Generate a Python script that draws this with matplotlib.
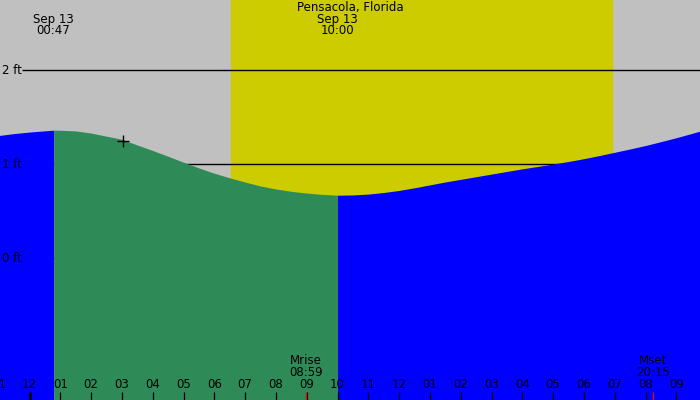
import matplotlib
matplotlib.use("Agg")
import matplotlib.pyplot as plt
import numpy as np

# tide heights (ft) read half-hourly off the chart, hours from midnight Sep 13
hours = [-1.0, -0.5, 0.0, 0.5, 1.0, 1.5, 2.0, 2.5, 3.0, 3.5, 4.0, 4.5, 5.0, 5.5, 6.0, 6.5,
         7.0, 7.5, 8.0, 8.5, 9.0, 9.5, 10.5, 11.0, 11.5, 12.0, 12.5, 13.0, 13.5,
         14.0, 14.5, 15.0, 15.5, 16.0, 16.5, 17.0, 17.5, 18.0, 18.5, 19.0, 19.5, 20.0,
         20.5, 21.0, 21.5, 22.0]
height = [1.306, 1.327, 1.343, 1.356, 1.362, 1.355, 1.332, 1.299, 1.266, 1.205, 1.147, 1.085,
          1.022, 0.961, 0.905, 0.856, 0.811, 0.769, 0.738, 0.712, 0.694, 0.680, 0.674,
          0.683, 0.700, 0.722, 0.750, 0.781, 0.812, 0.840, 0.868, 0.896, 0.924, 0.952, 0.977,
          1.003, 1.030, 1.060, 1.093, 1.128, 1.163, 1.200, 1.241, 1.283, 1.328, 1.375]

# tide events
high_time, high_ft, high_label = 0.783, 1.363, "00:47"
low_time, low_ft, low_label = 10.0, 0.671, "10:00"
date_label = "Sep 13"
station = "Pensacola, Florida"

sunrise, sunset = 6.54, 18.90
moonrise, moonrise_label = 8.983, "08:59"
moonset, moonset_label = 20.25, "20:15"
now_time, now_ft = 3.04, 1.248

ft_levels = [0, 1, 2]
hour_ticks = list(range(-1, 22))

# merge events into the curve
t = np.array(hours + [high_time, low_time], dtype=float)
y = np.array(height + [high_ft, low_ft])
order = np.argsort(t)
t, y = t[order], y[order]

PX_H = 30.8   # px per hour
PX_F = 94.0   # px per ft
x0 = -29.5 / PX_H
x1 = (700 - 29.5) / PX_H
ytop = 2 + 70.3 / PX_F
ybot = -(400 - 258.3) / PX_F

fig = plt.figure(figsize=(7, 4), dpi=100)
ax = fig.add_axes([0, 0, 1, 1])
ax.set_xlim(x0, x1)
ax.set_ylim(ybot, ytop)
ax.axis("off")
fig.patch.set_facecolor("#c0c0c0")
ax.set_facecolor("#c0c0c0")

ax.axvspan(sunrise, sunset, color="#cccc00", zorder=1)

ax.hlines(ft_levels, -0.253, x1, color="black", lw=1.0, zorder=2)

falling = (t >= high_time) & (t <= low_time)
ax.fill_between(t, ybot, y, where=(t <= high_time), color="#0000ff", lw=0, zorder=3)
ax.fill_between(t, ybot, y, where=(t >= low_time), color="#0000ff", lw=0, zorder=3)
ax.fill_between(t, ybot, y, where=falling, color="#2e8b57", lw=0, zorder=3)

def py(pix):
    return ytop - pix / PX_F

fs = 8.5
for lv in ft_levels:
    ax.text(x0 + 2 / PX_H, lv, f"{lv} ft", fontsize=fs, ha="left", va="center", zorder=5)

ax.plot([now_time], [now_ft], marker="+", color="black", ms=9, mew=1, zorder=6)

# hour ticks
for h in hour_ticks:
    lw = 2.0 if h % 24 == 0 else 0.9
    ax.vlines(h, ybot, ybot + 8 / PX_F, color="black", lw=lw, zorder=5)
    ax.text(h, py(385), "%02d" % (h % 12 or 12), fontsize=fs, ha="center", va="center", zorder=5)
for m in [moonrise, moonset]:
    ax.vlines(m, ybot, ybot + 8 / PX_F, color="red", lw=0.9, zorder=5)

ax.text(moonrise, py(361), "Mrise", fontsize=fs, ha="center", va="center", zorder=5)
ax.text(moonrise, py(373), moonrise_label, fontsize=fs, ha="center", va="center", zorder=5)
ax.text(moonset, py(361), "Mset", fontsize=fs, ha="center", va="center", zorder=5)
ax.text(moonset, py(373), moonset_label, fontsize=fs, ha="center", va="center", zorder=5)

ax.text(high_time, py(19), date_label, fontsize=fs, ha="center", va="center", zorder=5)
ax.text(high_time, py(31), high_label, fontsize=fs, ha="center", va="center", zorder=5)
ax.text((x0 + x1) / 2, py(7), station, fontsize=fs, ha="center", va="center", zorder=5)
ax.text(low_time, py(19), date_label, fontsize=fs, ha="center", va="center", zorder=5)
ax.text(low_time, py(31), low_label, fontsize=fs, ha="center", va="center", zorder=5)

fig.savefig("out.png", dpi=100, facecolor=fig.get_facecolor())
